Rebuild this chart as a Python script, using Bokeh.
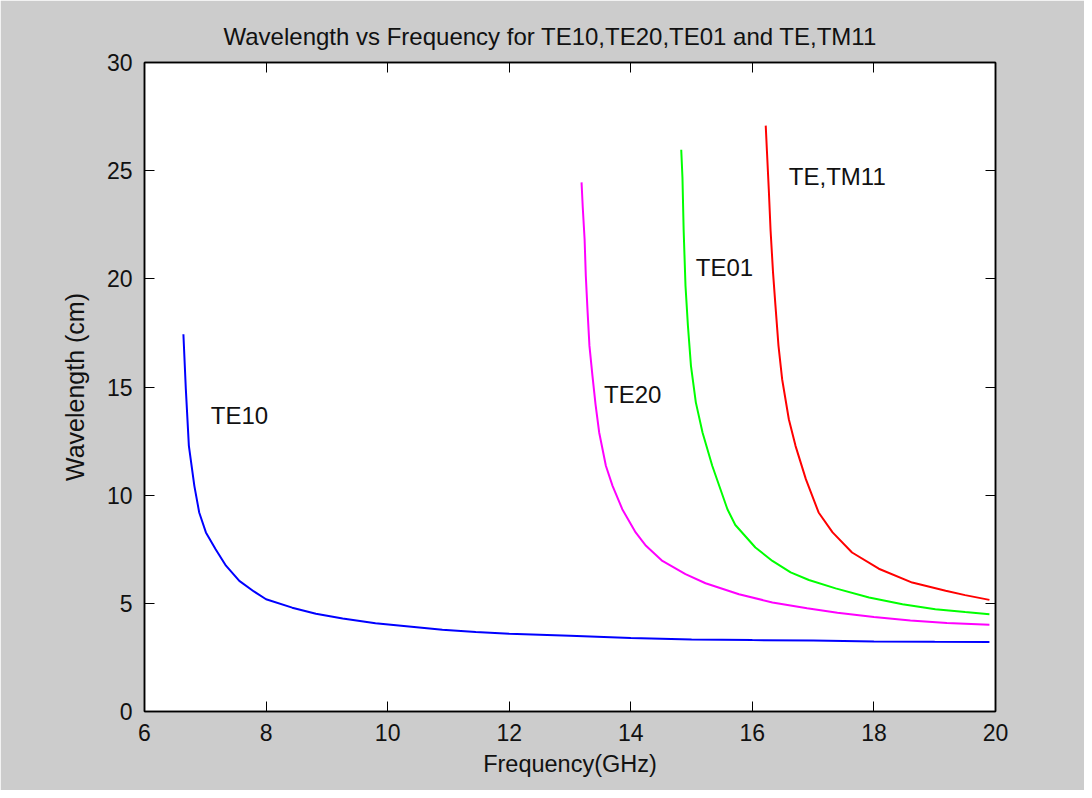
from bokeh.plotting import figure
from bokeh.models import LinearAxis, FixedTicker, Range1d, ColumnDataSource
from bokeh.core.properties import value
from bokeh.embed import file_html
from bokeh.resources import INLINE

# ---- data ----
te10_f = [6.64, 6.68, 6.73, 6.82, 6.90, 7.01, 7.17, 7.34, 7.56, 7.80, 8.00, 8.43, 8.82, 9.26,
          9.80, 10.35, 10.90, 11.45, 12.00, 13.00, 14.00, 15.00, 16.00, 17.00, 18.00, 19.00, 19.90]
te10_w = [17.44, 14.90, 12.28, 10.43, 9.20, 8.28, 7.50, 6.74, 6.04, 5.55, 5.19, 4.80, 4.52, 4.30,
          4.08, 3.93, 3.78, 3.68, 3.59, 3.50, 3.40, 3.33, 3.30, 3.28, 3.24, 3.22, 3.21]

te20_f = [13.19, 13.21, 13.24, 13.26, 13.29, 13.32, 13.37, 13.42, 13.48, 13.59, 13.70, 13.86,
          14.08, 14.25, 14.52, 14.90, 15.23, 15.78, 16.33, 16.90, 17.40, 18.00, 18.60, 19.20, 19.90]
te20_w = [24.46, 23.30, 21.84, 20.14, 18.45, 16.90, 15.50, 14.20, 12.90, 11.36, 10.43, 9.35,
          8.28, 7.66, 6.96, 6.35, 5.93, 5.42, 5.04, 4.77, 4.56, 4.37, 4.21, 4.09, 4.01]

te01_f = [14.83, 14.85, 14.87, 14.90, 14.94, 14.99, 15.07, 15.18, 15.34, 15.59, 15.72, 16.05,
          16.33, 16.63, 16.93, 17.37, 17.92, 18.47, 19.01, 19.50, 19.90]
te01_w = [25.97, 24.69, 22.22, 19.68, 17.83, 15.98, 14.29, 12.90, 11.36, 9.35, 8.62, 7.58,
          6.96, 6.43, 6.08, 5.69, 5.27, 4.96, 4.73, 4.60, 4.50]

te11_f = [16.22, 16.24, 16.27, 16.30, 16.34, 16.38, 16.43, 16.49, 16.60, 16.71, 16.88, 17.09,
          17.32, 17.64, 18.08, 18.63, 19.18, 19.50, 19.90]
te11_w = [27.08, 25.90, 24.15, 22.22, 20.30, 18.76, 16.90, 15.36, 13.51, 12.28, 10.74, 9.20,
          8.28, 7.35, 6.60, 5.96, 5.58, 5.38, 5.16]

label_text = ["TE10", "TE20", "TE01", "TE,TM11"]
label_f = [7.09, 13.56, 15.07, 16.60]
label_w = [13.68, 14.67, 20.53, 24.73]

x_ticks = [6, 8, 10, 12, 14, 16, 18, 20]
y_ticks = [0, 5, 10, 15, 20, 25, 30]

title_text = "Wavelength vs Frequency for TE10,TE20,TE01 and TE,TM11"
x_label = "Frequency(GHz)"
y_label = "Wavelength (cm)"

FONT = "Liberation Sans"

p = figure(width=1084, height=790, output_backend="svg", toolbar_location=None,
           x_range=Range1d(6, 20), y_range=Range1d(0, 30),
           x_axis_label=x_label, y_axis_label=y_label,
           min_border_left=144, min_border_right=89, min_border_top=62, min_border_bottom=79)
p.background_fill_color = "white"
p.border_fill_color = "#cccccc"
p.grid.visible = False
p.outline_line_color = "black"
p.outline_line_width = 1.5

p.title.text = title_text
p.title.align = "left"
p.title.offset = 79
p.title.standoff = 25
p.title.text_font = FONT
p.title.text_font_size = "24px"
p.title.text_font_style = "normal"
p.title.text_color = "#111111"

for ax in (p.xaxis[0], p.yaxis[0]):
    ax.major_tick_in = 10
    ax.major_tick_out = 0
    ax.minor_tick_line_color = None
    ax.major_tick_line_color = "black"
    ax.axis_line_color = "black"
    ax.axis_line_width = 1.5
    ax.major_label_text_font = FONT
    ax.major_label_text_font_size = "23px"
    ax.major_label_text_color = "#111111"
    ax.axis_label_text_font = FONT
    ax.axis_label_text_font_style = "normal"
    ax.axis_label_text_color = "#111111"

p.xaxis[0].axis_label_text_font_size = "23.5px"
p.yaxis[0].axis_label_text_font_size = "25px"
p.xaxis[0].ticker = FixedTicker(ticks=x_ticks)
p.yaxis[0].ticker = FixedTicker(ticks=y_ticks)
p.xaxis[0].major_label_standoff = 12
p.yaxis[0].major_label_standoff = 12
p.xaxis[0].axis_label_standoff = 7
p.yaxis[0].axis_label_standoff = 15

top = LinearAxis(ticker=FixedTicker(ticks=x_ticks), major_tick_in=10, major_tick_out=0,
                 minor_tick_line_color=None, major_label_text_color=None,
                 axis_line_color="black", axis_line_width=1.5)
right = LinearAxis(ticker=FixedTicker(ticks=y_ticks), major_tick_in=10, major_tick_out=0,
                   minor_tick_line_color=None, major_label_text_color=None,
                   axis_line_color="black", axis_line_width=1.5)
p.add_layout(top, "above")
p.add_layout(right, "right")

p.line(te10_f, te10_w, line_color="#0000ff", line_width=2)
p.line(te20_f, te20_w, line_color="#ff00ff", line_width=2)
p.line(te01_f, te01_w, line_color="#00ff00", line_width=2)
p.line(te11_f, te11_w, line_color="#ff0000", line_width=2)

src = ColumnDataSource(dict(x=label_f, y=label_w, t=label_text))
p.text(x="x", y="y", text="t", source=src, text_font=value(FONT), text_font_size="24px",
       text_baseline="middle", text_align="left", text_color="#111111")

open("out.html", "w").write(file_html(p, INLINE))
